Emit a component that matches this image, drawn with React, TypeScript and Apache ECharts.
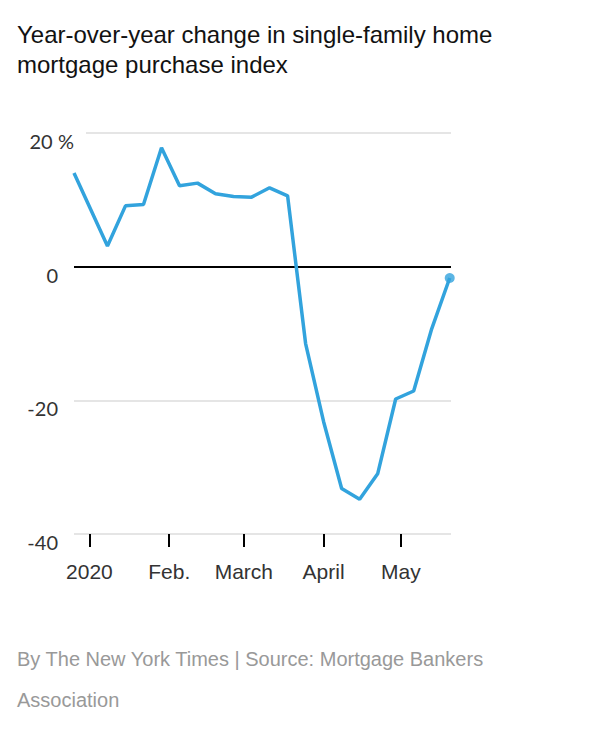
import React, { useEffect, useRef } from "react";
import * as echarts from "echarts";

// Weekly dates (MBA releases) and year-over-year change, %
const dates = [
  "2019-12-26", "2020-01-08", "2020-01-15", "2020-01-22", "2020-01-29",
  "2020-02-05", "2020-02-12", "2020-02-19", "2020-02-26", "2020-03-04",
  "2020-03-11", "2020-03-18", "2020-03-25", "2020-04-01", "2020-04-08",
  "2020-04-15", "2020-04-22", "2020-04-29", "2020-05-06", "2020-05-13",
  "2020-05-20",
];
const values = [
  14.0, 3.1, 9.1, 9.3, 17.8, 12.1, 12.5, 10.9, 10.5, 10.4, 11.8, 10.6,
  -11.5, -23.2, -33.2, -34.8, -31.0, -19.8, -18.6, -9.3, -1.7,
];
const monthStarts = ["2020-01-01", "2020-02-01", "2020-03-01", "2020-04-01", "2020-05-01"];
const monthLabels = ["2020", "Feb.", "March", "April", "May"];
const yTicks = [-40, -20, 0, 20];

const TITLE = "Year-over-year change in single-family home\nmortgage purchase index";
const SOURCE = "By The New York Times | Source: Mortgage Bankers\nAssociation";

const BASE = Date.UTC(2020, 0, 1);
const toDay = (s: string) => {
  const [y, m, d] = s.split("-").map(Number);
  return (Date.UTC(y, m - 1, d) - BASE) / 86400000;
};

export default function App() {
  const ref = useRef<HTMLDivElement>(null);
  useEffect(() => {
    if (!ref.current) return;
    const chart = echarts.init(ref.current, null, { renderer: "svg" });
    const days = dates.map(toDay);
    const monthDays = monthStarts.map(toDay);
    const points = days.map((d, i) => [d, values[i]]);
    const BLUE = "#32a3dd";
    const SANS = "'Liberation Sans', Arial, sans-serif";
    chart.setOption({
      animation: false,
      title: [
        {
          text: TITLE,
          left: 17,
          top: 19,
          padding: 0,
          textStyle: {
            fontSize: 24,
            fontWeight: "normal",
            color: "#121212",
            lineHeight: 30,
            fontFamily: SANS,
          },
        },
        {
          text: SOURCE,
          left: 17,
          top: 638,
          padding: 0,
          textStyle: {
            fontSize: 20,
            fontWeight: "normal",
            color: "#999",
            lineHeight: 41,
            fontFamily: SANS,
          },
        },
      ],
      grid: { left: 74, right: 149, top: 133, bottom: 203 },
      xAxis: {
        type: "value",
        min: -6,
        max: 140.5,
        axisLine: { show: false, onZero: false },
        splitLine: { show: false },
        axisTick: {
          show: true,
          customValues: monthDays,
          length: 13,
          lineStyle: { color: "#000", width: 2 },
        },
        axisLabel: {
          customValues: monthDays,
          formatter: (v: number) => {
            const i = monthDays.indexOf(v);
            return i >= 0 ? monthLabels[i] : "";
          },
          margin: 27,
          fontSize: 21,
          color: "#333",
          fontFamily: SANS,
        },
      },
      yAxis: {
        type: "value",
        min: yTicks[0],
        max: yTicks[yTicks.length - 1],
        interval: 20,
        axisLine: { show: false },
        axisTick: { show: false },
        splitLine: { lineStyle: { color: "#ddd", width: 1.5 } },
        axisLabel: {
          align: "left",
          verticalAlign: "top",
          margin: 50,
          padding: [-2, 0, 0, 0],
          formatter: (v: number) => (v === 20 ? "{n|20}{p|%}" : "{n|" + v + "}"),
          rich: {
            n: { width: 34, align: "right", fontSize: 20, fontFamily: "Lato", color: "#333" },
            p: { fontSize: 20, fontFamily: "Lato", color: "#333" },
          },
        },
      },
      graphic: [
        {
          type: "rect",
          z: 100,
          shape: { x: 73, y: 131, width: 13, height: 4 },
          style: { fill: "#fff" },
        },
      ],
      series: [
        {
          type: "line",
          data: points,
          symbol: "none",
          lineStyle: { color: BLUE, width: 3.5 },
          z: 3,
          markLine: {
            silent: true,
            symbol: "none",
            label: { show: false },
            lineStyle: { color: "#000", width: 2, type: "solid" },
            data: [{ yAxis: 0 }],
            z: 1,
          },
        },
        {
          type: "scatter",
          data: [points[points.length - 1]],
          symbol: "circle",
          symbolSize: 10,
          itemStyle: { color: BLUE },
          z: 4,
        },
      ],
    });
    return () => chart.dispose();
  }, []);
  return (
    <div
      ref={ref}
      style={{ position: "absolute", left: 0, top: 0, width: 600, height: 737 }}
    />
  );
}
